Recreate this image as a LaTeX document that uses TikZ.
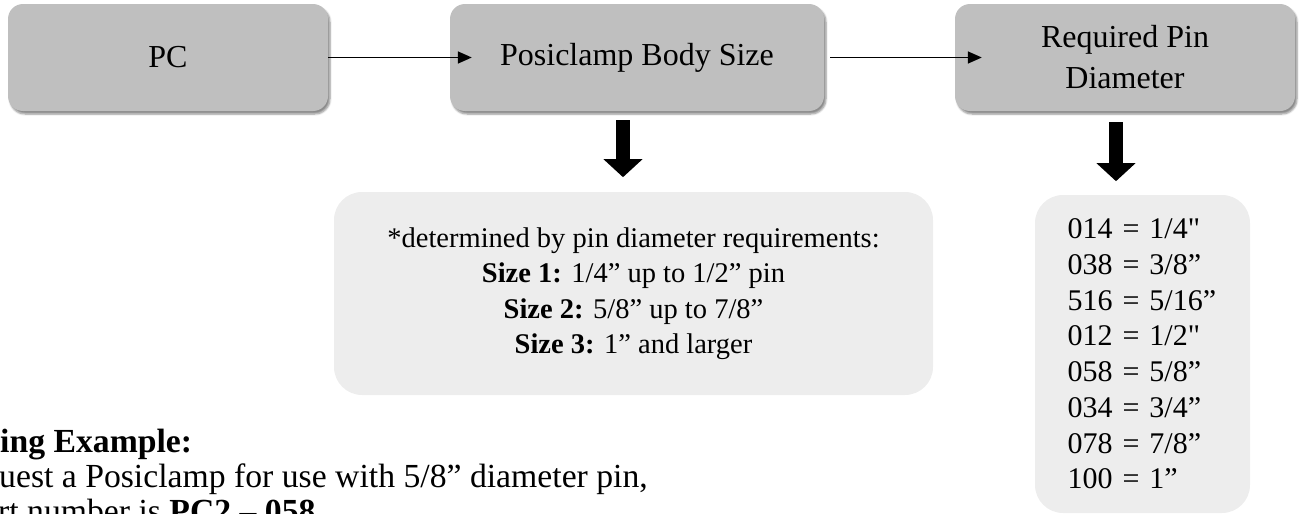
\documentclass[tikz,border=0pt]{standalone}
\usepackage{fontspec}
\setmainfont{Liberation Serif}[Ligatures=TeXOff]
\usetikzlibrary{arrows.meta,shadows.blur}
\definecolor{topgray}{HTML}{BFBFBF}
\definecolor{lightgray2}{HTML}{EDEDED}
\tikzset{
  topbox/.style={fill=topgray, rounded corners=15pt, minimum height=107pt, inner sep=0pt,
    blur shadow={shadow xshift=2pt, shadow yshift=-3pt, shadow blur steps=6, shadow opacity=45},
    font=\fontsize{32}{41}\selectfont, align=center},
  infobox/.style={fill=lightgray2, rounded corners=28pt, inner sep=0pt,
    font=\fontsize{28.5}{35.5}\selectfont},
  flow/.style={line width=1.5pt, -{Triangle[length=14pt,width=12pt]}},
  bigarrow/.style={line width=14pt, -{Triangle[length=18pt,width=38pt]}},
  bottomtext/.style={anchor=base west, inner sep=0pt, font=\fontsize{33.7}{35}\selectfont}
}
\begin{document}
\begin{tikzpicture}[x=1pt,y=-1pt]
\useasboundingbox (0,0) rectangle (1302,514);
\node[topbox, minimum width=320pt] (pc) at (168,57.5) {PC};
\node[topbox, minimum width=374pt] (body) at (637,57.5) {Posiclamp Body Size};
\node[topbox, minimum width=340pt] (pin) at (1125,57.5) {Required Pin\\Diameter};
\node[infobox, minimum width=599pt, minimum height=203pt, align=center] (sizes) at (633.5,293.5)
  {*determined by pin diameter requirements:\\
   \textbf{Size 1:} 1/4” up to 1/2” pin\\
   \textbf{Size 2:} 5/8” up to 7/8”\\
   \textbf{Size 3:} 1” and larger};
\node[infobox, minimum width=215pt, minimum height=318pt, text width=150pt, align=left,
      font=\fontsize{30}{35.7}\selectfont] (codes) at (1142.5,354)
  {014 = 1/4"\\
   038 = 3/8”\\
   516 = 5/16”\\
   012 = 1/2"\\
   058 = 5/8”\\
   034 = 3/4”\\
   078 = 7/8”\\
   100 = 1”};
\draw[flow] (pc.east) -- ([xshift=22pt]body.west);
\draw[flow] ([xshift=6pt]body.east) -- ([xshift=27pt]pin.west);
\draw[bigarrow] ([xshift=-14pt,yshift=-9pt]body.south) -- ++(0,57);
\draw[bigarrow] ([xshift=-9pt,yshift=-11pt]pin.south) -- ++(0,59);
\node[bottomtext] (ex1) at (0,452) {\textbf{ing Example:}};
\node[bottomtext] (ex2) at (-1,487) {uest a Posiclamp for use with 5/8” diameter pin,};
\node[bottomtext] (ex3) at (-2,522) {rt number is \textbf{PC2 – 058}};
\end{tikzpicture}
\end{document}
